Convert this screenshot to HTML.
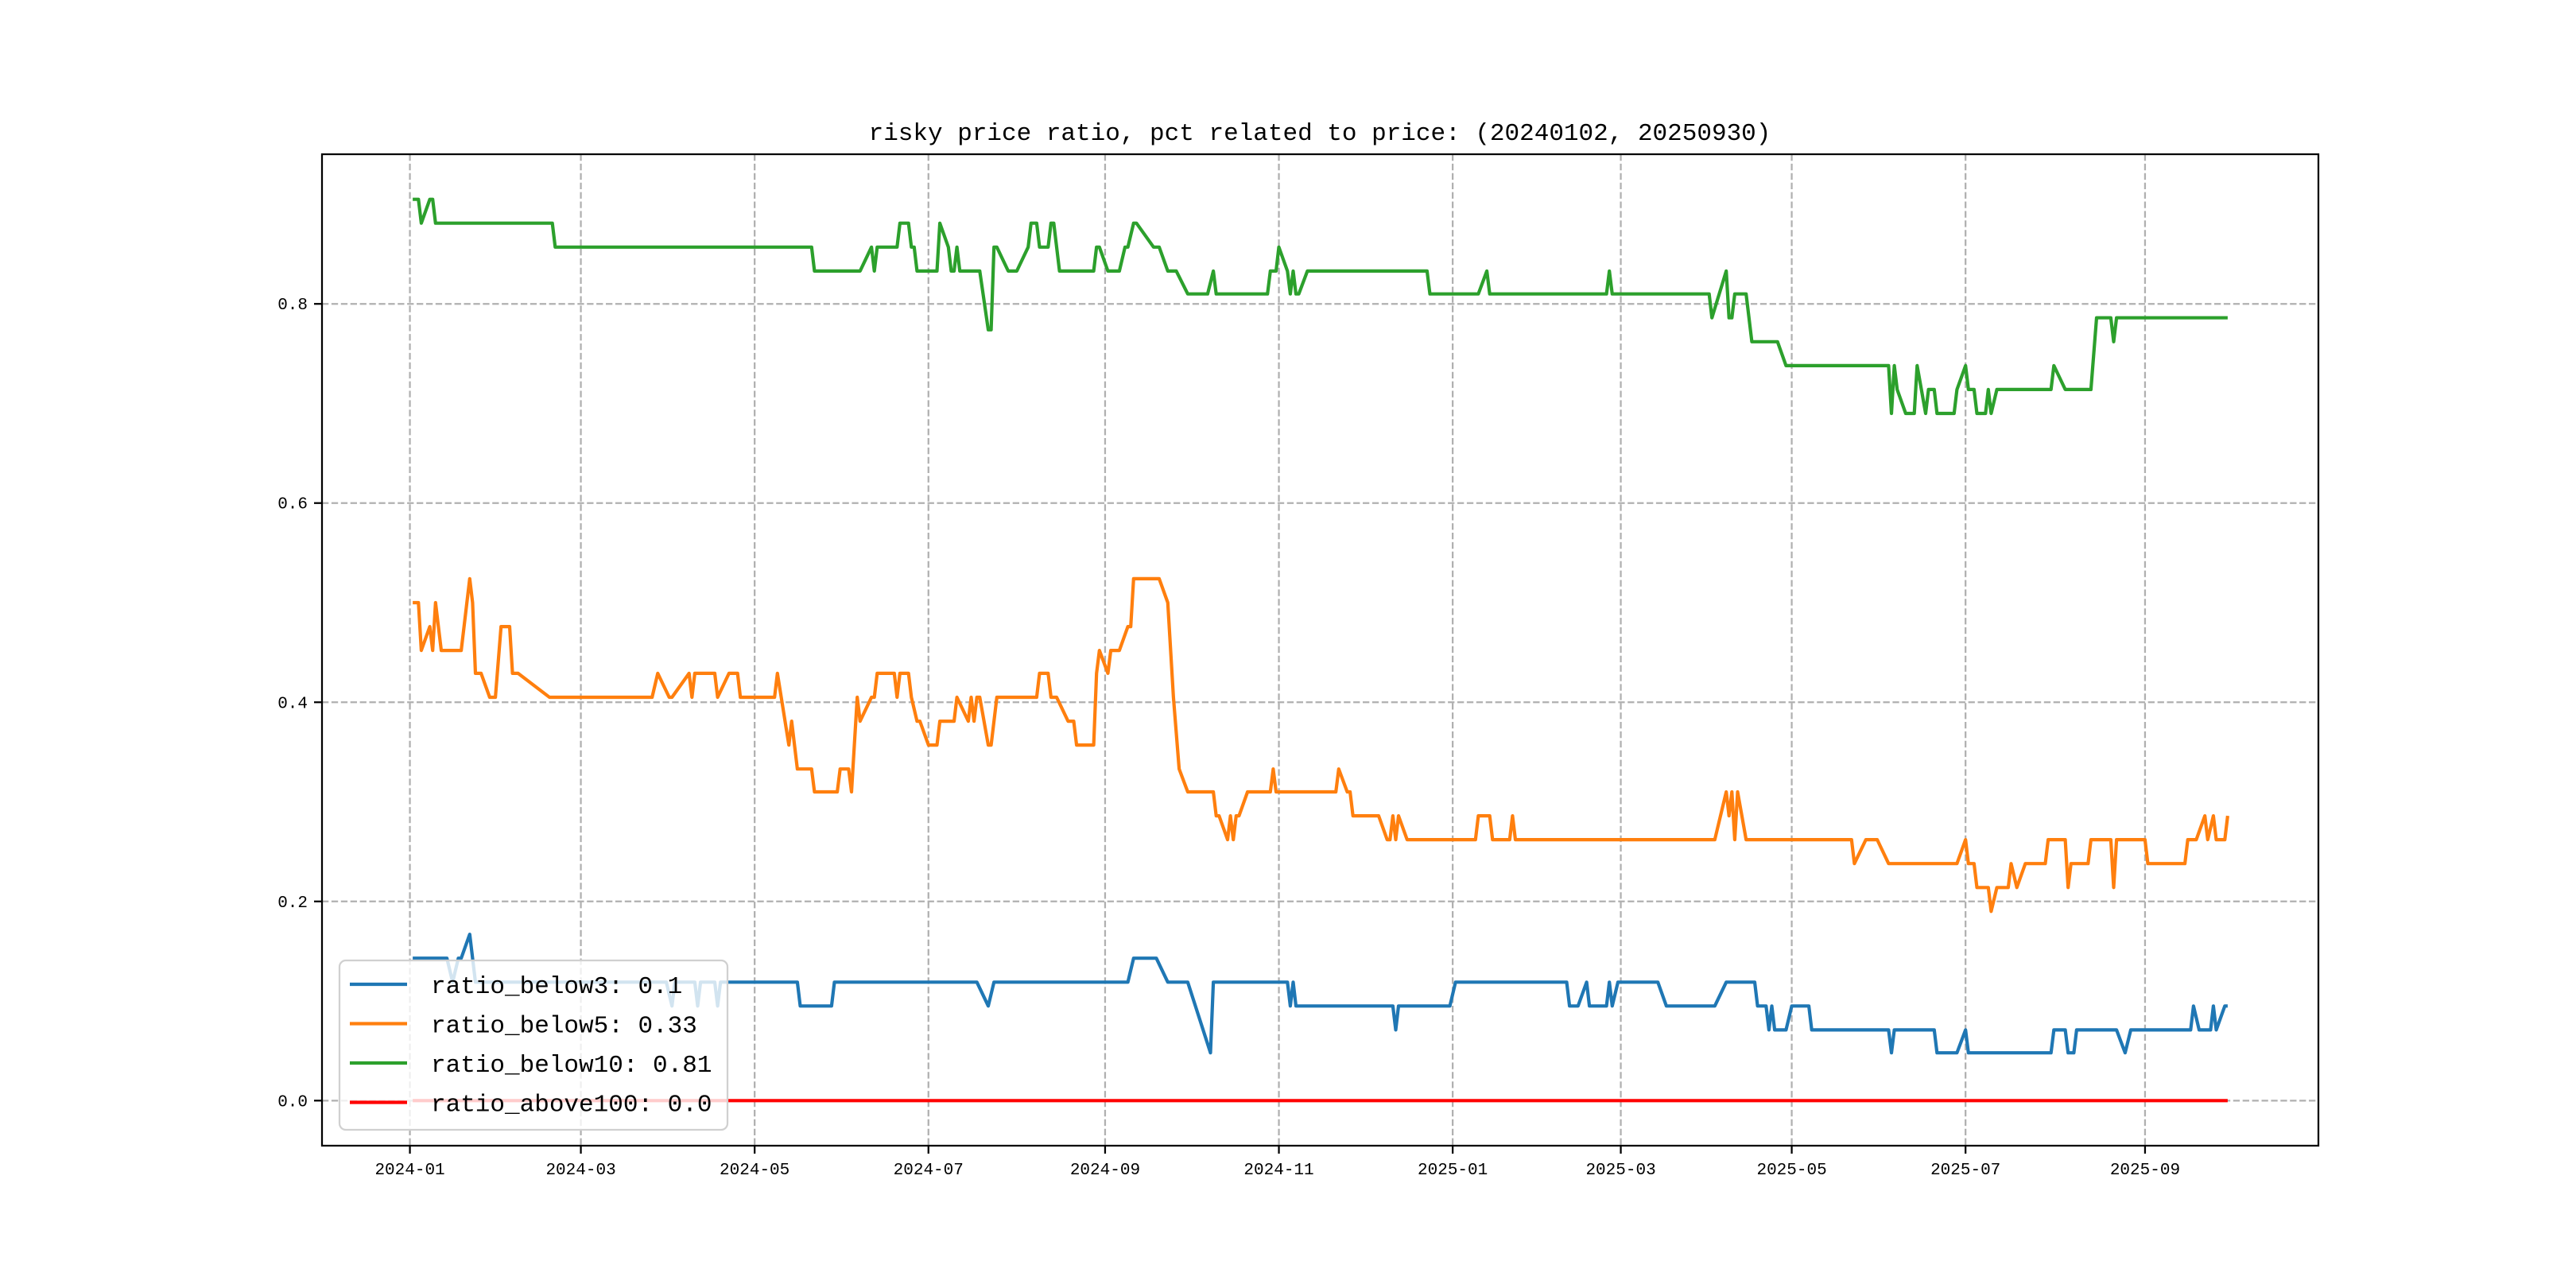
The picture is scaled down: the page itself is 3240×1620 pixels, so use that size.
<!DOCTYPE html>
<html><head><meta charset="utf-8"><style>
html,body{margin:0;padding:0;background:#fff;}
svg{display:block;}
text{font-family:"Liberation Mono","DejaVu Sans Mono",monospace;fill:#000;}
</style></head>
<body>
<svg id="chart" width="3240" height="1620" viewBox="0 0 3240 1620">
<rect x="0" y="0" width="3240" height="1620" fill="#fff"/>
<text x="1660" y="176" font-size="31" text-anchor="middle">risky price ratio, pct related to price: (20240102, 20250930)</text>
<g id="grid"></g><g id="series"></g><g id="axes"></g><g id="legend"></g>
</svg>
<script>
// day offsets from 2024-01-01
const tickDays = [0,60,121,182,244,305,366,425,485,546,609];
const tickLabels = ["2024-01","2024-03","2024-05","2024-07","2024-09","2024-11","2025-01","2025-03","2025-05","2025-07","2025-09"];
const yTicks = [0,0.2,0.4,0.6,0.8];
const yTickLabels = ["0.0","0.2","0.4","0.6","0.8"];

const below3Days = [1,13,15,17,18,21,23,90,92,93,100,101,102,107,108,109,136,137,148,149,199,203,205,252,254,262,266,273,281,282,308,309,310,311,345,346,347,365,367,406,407,410,413,414,420,421,422,424,438,441,458,462,472,473,476,477,478,479,483,485,491,492,519,520,521,535,536,543,546,547,576,577,581,582,584,585,599,602,604,625,626,628,632,633,634,637,638];
const below3Vals = [0.143,0.143,0.119,0.143,0.143,0.167,0.119,0.119,0.095,0.119,0.119,0.095,0.119,0.119,0.095,0.119,0.119,0.095,0.095,0.119,0.119,0.095,0.119,0.119,0.143,0.143,0.119,0.119,0.048,0.119,0.119,0.095,0.119,0.095,0.095,0.071,0.095,0.095,0.119,0.119,0.095,0.095,0.119,0.095,0.095,0.119,0.095,0.119,0.119,0.095,0.095,0.119,0.119,0.095,0.095,0.071,0.095,0.071,0.071,0.095,0.095,0.071,0.071,0.048,0.071,0.071,0.048,0.048,0.071,0.048,0.048,0.071,0.071,0.048,0.048,0.071,0.071,0.048,0.071,0.071,0.095,0.071,0.071,0.095,0.071,0.095,0.095];

const below5Days = [1,3,4,7,8,9,11,18,21,22,23,25,28,30,32,35,36,38,49,85,87,91,92,98,99,100,107,108,112,115,116,128,129,133,134,136,141,142,150,151,154,155,157,158,162,163,164,170,171,172,175,176,178,179,182,185,186,191,192,196,197,198,199,200,203,204,206,220,221,224,225,227,231,233,234,240,241,242,245,246,249,252,253,254,263,266,268,270,273,282,283,284,287,288,289,290,291,294,302,303,304,324,325,326,329,330,331,340,343,344,345,346,347,350,374,375,379,380,386,387,388,458,462,463,464,465,466,469,506,507,511,515,519,543,546,547,549,550,554,555,557,561,562,564,567,574,575,581,582,583,589,590,597,598,599,609,610,623,624,627,630,631,633,634,637,638];
const below5Vals = [0.5,0.5,0.452,0.476,0.452,0.5,0.452,0.452,0.524,0.5,0.429,0.429,0.405,0.405,0.476,0.476,0.429,0.429,0.405,0.405,0.429,0.405,0.405,0.429,0.405,0.429,0.429,0.405,0.429,0.429,0.405,0.405,0.429,0.357,0.381,0.333,0.333,0.31,0.31,0.333,0.333,0.31,0.405,0.381,0.405,0.405,0.429,0.429,0.405,0.429,0.429,0.405,0.381,0.381,0.357,0.357,0.381,0.381,0.405,0.381,0.405,0.381,0.405,0.405,0.357,0.357,0.405,0.405,0.429,0.429,0.405,0.405,0.381,0.381,0.357,0.357,0.429,0.452,0.429,0.452,0.452,0.476,0.476,0.524,0.524,0.5,0.405,0.333,0.31,0.31,0.286,0.286,0.262,0.286,0.262,0.286,0.286,0.31,0.31,0.333,0.31,0.31,0.31,0.333,0.31,0.31,0.286,0.286,0.262,0.262,0.286,0.262,0.286,0.262,0.262,0.286,0.286,0.262,0.262,0.286,0.262,0.262,0.31,0.286,0.31,0.262,0.31,0.262,0.262,0.238,0.262,0.262,0.238,0.238,0.262,0.238,0.238,0.214,0.214,0.19,0.214,0.214,0.238,0.214,0.238,0.238,0.262,0.262,0.214,0.238,0.238,0.262,0.262,0.214,0.262,0.262,0.238,0.238,0.262,0.262,0.286,0.262,0.286,0.262,0.262,0.286];

const below10Days = [1,3,4,7,8,9,50,51,141,142,158,162,163,164,171,172,175,176,177,178,185,186,189,190,191,192,193,200,203,204,205,206,210,213,217,218,220,221,224,225,226,228,240,241,242,245,249,251,252,254,255,261,263,266,269,273,280,282,283,301,302,304,305,308,309,310,311,312,315,325,357,358,375,378,379,420,421,422,456,457,462,463,464,465,469,471,480,483,519,520,521,522,525,528,529,532,533,535,536,542,543,546,547,549,550,553,554,555,557,576,577,581,590,592,597,598,599,638];
const below10Vals = [0.905,0.905,0.881,0.905,0.905,0.881,0.881,0.857,0.857,0.833,0.833,0.857,0.833,0.857,0.857,0.881,0.881,0.857,0.857,0.833,0.833,0.881,0.857,0.833,0.833,0.857,0.833,0.833,0.774,0.774,0.857,0.857,0.833,0.833,0.857,0.881,0.881,0.857,0.857,0.881,0.881,0.833,0.833,0.857,0.857,0.833,0.833,0.857,0.857,0.881,0.881,0.857,0.857,0.833,0.833,0.81,0.81,0.833,0.81,0.81,0.833,0.833,0.857,0.833,0.81,0.833,0.81,0.81,0.833,0.833,0.833,0.81,0.81,0.833,0.81,0.81,0.833,0.81,0.81,0.786,0.833,0.786,0.786,0.81,0.81,0.762,0.762,0.738,0.738,0.69,0.738,0.714,0.69,0.69,0.738,0.69,0.714,0.714,0.69,0.69,0.714,0.738,0.714,0.714,0.69,0.69,0.714,0.69,0.714,0.714,0.738,0.714,0.714,0.786,0.786,0.762,0.786,0.786];

const above100Days = [1,638];
const above100Vals = [0,0];

const legendLabels = ["ratio_below3: 0.1","ratio_below5: 0.33","ratio_below10: 0.81","ratio_above100: 0.0"];
const colors = ["#1f77b4","#ff7f0e","#2ca02c","#ff0000"];

const NS="http://www.w3.org/2000/svg";
const L=405,R=2916,T=194,B=1441;
const xmin=-30.85,xmax=669.85,ymin=-0.04525,ymax=0.95025;
const X=d=>L+(d-xmin)/(xmax-xmin)*(R-L);
const Y=v=>B-(v-ymin)/(ymax-ymin)*(B-T);
function mk(tag,attrs,parent){const e=document.createElementNS(NS,tag);for(const k in attrs)e.setAttribute(k,attrs[k]);parent.appendChild(e);return e;}
const grid=document.getElementById('grid'),ser=document.getElementById('series'),axes=document.getElementById('axes'),leg=document.getElementById('legend');

tickDays.forEach((d,i)=>{
  const g=mk('line',{x1:X(d),x2:X(d),y1:T,y2:B,stroke:'#b0b0b0','stroke-width':2.25,'stroke-dasharray':'8.3 3.6'},grid);
  
  
  const t=mk('line',{x1:X(d),x2:X(d),y1:B,y2:B+10,stroke:'#000','stroke-width':2.25},axes);
  
  
  const tx=mk('text',{x:X(d),y:B+36,'font-size':21,'text-anchor':'middle'},axes);
  tx.textContent=tickLabels[i];
  
  
});
yTicks.forEach((v,i)=>{
  const g=mk('line',{x1:L,x2:R,y1:Y(v),y2:Y(v),stroke:'#b0b0b0','stroke-width':2.25,'stroke-dasharray':'8.3 3.6'},grid);
  
  
  const t=mk('line',{x1:L-10,x2:L,y1:Y(v),y2:Y(v),stroke:'#000','stroke-width':2.25},axes);
  
  
  const tx=mk('text',{x:L-18,y:Y(v)+7,'font-size':21,'text-anchor':'end'},axes);
  tx.textContent=yTickLabels[i];
  
  
});
const frame=mk('rect',{x:L,y:T,width:R-L,height:B-T,fill:'none',stroke:'#000','stroke-width':2.25},axes);



const seriesDays=[below3Days,below5Days,below10Days,above100Days];
const seriesVals=[below3Vals,below5Vals,below10Vals,above100Vals];
const seriesNames=['ratio-below3-line','ratio-below5-line','ratio-below10-line','ratio-above100-line'];
seriesDays.forEach((days,s)=>{
  const n=Math.min(days.length,seriesVals[s].length);
  const pts=days.slice(0,n).map((d,i)=>X(d).toFixed(1)+','+Y(seriesVals[s][i]).toFixed(1)).join(' ');
  const p=mk('polyline',{points:pts,fill:'none',stroke:colors[s],'stroke-width':4.2,'stroke-linejoin':'round'},ser);
  
  
});

const lb=mk('rect',{x:427,y:1208,width:488,height:213,rx:8,fill:'#fff','fill-opacity':0.8,stroke:'#d0d0d0','stroke-width':2.25},leg);


legendLabels.forEach((lab,i)=>{
  const y=1238+i*49.5;
  const ln=mk('line',{x1:440,x2:512,y1:y,y2:y,stroke:colors[i],'stroke-width':4.2},leg);
  
  
  const t=mk('text',{x:542,y:y+11,'font-size':31},leg);
  t.textContent=lab;
  
  
});
</script>
</body></html>
